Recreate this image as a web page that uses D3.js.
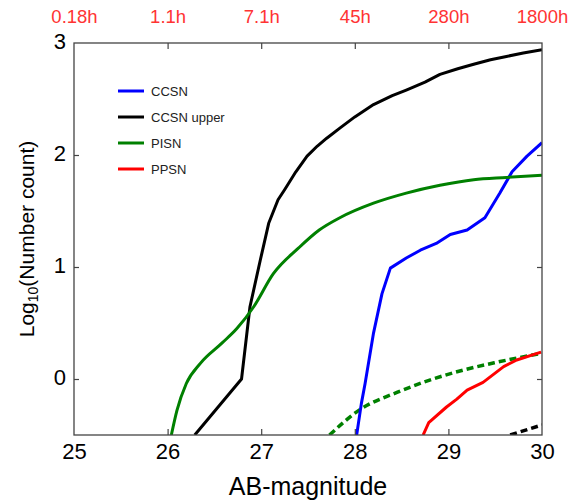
<!DOCTYPE html>
<html>
<head>
<meta charset="utf-8">
<script src="https://cdn.jsdelivr.net/npm/d3@7"></script>
<style>
  body { margin: 0; background: #fff; }
  svg { display: block; font-family: "Liberation Sans", Arial, sans-serif; }
</style>
</head>
<body>
<svg id="chart" width="576" height="504"></svg>
<script>
/* Supernova number counts vs AB magnitude. */

// x ticks and top (time) labels
const magTicks = [25, 26, 27, 28, 29, 30];
const timeLabels = ["0.18h", "1.1h", "7.1h", "45h", "280h", "1800h"];
const countTicks = [0, 1, 2, 3];

// CCSN (blue)
const ccsnX = [28.02, 28.07, 28.11, 28.20, 28.29, 28.38, 28.55, 28.70, 28.87, 29.02, 29.20, 29.39, 29.55, 29.68, 29.84, 30.0];
const ccsnY = [-0.5, -0.22, -0.04, 0.41, 0.76, 0.99, 1.08, 1.15, 1.21, 1.29, 1.33, 1.44, 1.66, 1.85, 1.99, 2.11];

// CCSN upper (black)
const upperX = [26.29, 26.79, 26.88, 26.99, 27.08, 27.18, 27.25, 27.37, 27.49, 27.60, 27.70, 27.84, 28.0, 28.20, 28.40, 28.55, 28.75, 28.91, 29.10, 29.27, 29.45, 29.62, 29.80, 30.0];
const upperY = [-0.5, 0.0, 0.645, 1.06, 1.39, 1.60, 1.69, 1.85, 1.99, 2.08, 2.15, 2.24, 2.34, 2.45, 2.53, 2.58, 2.65, 2.72, 2.77, 2.81, 2.85, 2.88, 2.91, 2.94];

// PISN (green)
const pisnX = [26.04, 26.10, 26.20, 26.35, 26.58, 26.74, 26.92, 27.13, 27.40, 27.62, 27.84, 28.20, 28.55, 28.91, 29.27, 29.62, 30.0];
const pisnY = [-0.5, -0.28, -0.04, 0.14, 0.32, 0.45, 0.645, 0.94, 1.17, 1.33, 1.44, 1.57, 1.66, 1.73, 1.78, 1.80, 1.82];

// PPSN (red)
const ppsnX = [28.73, 28.79, 28.98, 29.09, 29.20, 29.37, 29.59, 29.73, 29.99];
const ppsnY = [-0.5, -0.39, -0.25, -0.18, -0.10, -0.03, 0.11, 0.17, 0.24];

// dashed companions
const pisnDashX = [27.73, 28.06, 28.45, 28.80, 29.16, 29.52, 30.0];
const pisnDashY = [-0.5, -0.27, -0.12, -0.01, 0.08, 0.15, 0.23];
const upperDashX = [29.66, 30.0];
const upperDashY = [-0.5, -0.41];

const series = [
  { name: "CCSN", xs: ccsnX, ys: ccsnY, color: "#0000ff", smooth: false },
  { name: "CCSN upper", xs: upperX, ys: upperY, color: "#000000", smooth: false },
  { name: "PISN", xs: pisnX, ys: pisnY, color: "#008000", smooth: true },
  { name: "PPSN", xs: ppsnX, ys: ppsnY, color: "#ff0000", smooth: false },
];
const dashed = [
  { xs: pisnDashX, ys: pisnDashY, color: "#008000" },
  { xs: upperDashX, ys: upperDashY, color: "#000000" },
];

const margin = { top: 43, right: 34, bottom: 69, left: 74 };
const W = 576, H = 504;
const w = W - margin.left - margin.right;
const h = H - margin.top - margin.bottom;

const x = d3.scaleLinear().domain([25, 30]).range([0, w]);
const y = d3.scaleLinear().domain([-0.5, 3]).range([h, 0]);

const svg = d3.select("#chart");
const g = svg.append("g").attr("transform", `translate(${margin.left},${margin.top})`);

g.append("clipPath").attr("id", "plot-clip")
  .append("rect").attr("width", w).attr("height", h);

const line = d3.line().x((d) => x(d[0])).y((d) => y(d[1]));
const smoothLine = d3.line().x((d) => x(d[0])).y((d) => y(d[1])).curve(d3.curveMonotoneX);
const toPts = (s) => s.xs.map((v, i) => [v, s.ys[i]]);

const curves = g.append("g").attr("clip-path", "url(#plot-clip)");

curves.selectAll("path.dash")
  .data(dashed)
  .join("path")
  .attr("class", "dash")
  .attr("fill", "none")
  .attr("stroke", (d) => d.color)
  .attr("stroke-width", 3.5)
  .attr("stroke-dasharray", "7,4")
  .attr("d", (d) => smoothLine(toPts(d)));

curves.selectAll("path.series")
  .data(series)
  .join("path")
  .attr("class", "series")
  .attr("fill", "none")
  .attr("stroke", (d) => d.color)
  .attr("stroke-width", 3)
  .attr("stroke-linejoin", "round")
  .attr("d", (d) => (d.smooth ? smoothLine : line)(toPts(d)));

// axes, ticks pointing inward
const inner = magTicks.slice(1, -1);
const xBottom = g.append("g").attr("transform", `translate(0,${h})`)
  .call(d3.axisBottom(x).tickValues(magTicks).tickFormat(d3.format("d")).tickSize(-6).tickPadding(8));
const xTop = g.append("g")
  .call(d3.axisTop(x).tickValues(magTicks).tickFormat((d, i) => timeLabels[i]).tickSize(-6).tickPadding(20));
const yLeft = g.append("g")
  .call(d3.axisLeft(y).tickValues(countTicks).tickFormat(d3.format("d")).tickSize(-5).tickPadding(8));
const yRight = g.append("g").attr("transform", `translate(${w},0)`)
  .call(d3.axisRight(y).tickValues(countTicks).tickFormat("").tickSize(-5));

[xBottom, xTop, yLeft, yRight].forEach((a) => {
  a.select(".domain").remove();
  a.selectAll("line").attr("stroke", "#444").attr("stroke-width", 1.2);
});
// end ticks coincide with frame
xBottom.selectAll(".tick line").filter((d) => !inner.includes(d)).remove();
xTop.selectAll(".tick line").filter((d) => !inner.includes(d)).remove();
yLeft.selectAll(".tick line").filter((d) => d === 3).remove();
yRight.selectAll(".tick line").filter((d) => d === 3).remove();

xBottom.selectAll("text").attr("font-size", 22).attr("fill", "#000").attr("font-family", "Liberation Sans, Arial, sans-serif");
yLeft.selectAll("text").attr("font-size", 22).attr("fill", "#000").attr("dy", "0.24em").attr("font-family", "Liberation Sans, Arial, sans-serif");
xTop.selectAll("text").attr("font-size", 18.5).attr("fill", "#ff3333").attr("font-family", "Liberation Sans, Arial, sans-serif");

// frame
g.append("rect")
  .attr("width", w).attr("height", h)
  .attr("fill", "none").attr("stroke", "#444").attr("stroke-width", 1.3);

// axis titles
svg.append("text")
  .attr("x", margin.left + w / 2).attr("y", 495)
  .attr("text-anchor", "middle").attr("font-size", 25)
  .text("AB-magnitude");

const yt = svg.append("text")
  .attr("transform", `translate(34,${margin.top + h / 2}) rotate(-90)`)
  .attr("text-anchor", "middle").attr("font-size", 21);
yt.append("tspan").text("Log");
yt.append("tspan").attr("font-size", 14).attr("dy", 4).text("10");
yt.append("tspan").attr("dy", -4).text("(Number count)");

// legend
const leg = g.append("g").attr("transform", "translate(44,48)");
const rows = leg.selectAll("g").data(series).join("g")
  .attr("transform", (d, i) => `translate(0,${i * 26})`);
rows.append("line")
  .attr("x1", 0).attr("x2", 26)
  .attr("stroke", (d) => d.color).attr("stroke-width", 3);
rows.append("text")
  .attr("x", 33).attr("dy", "0.36em")
  .attr("font-size", 13).attr("fill", "#222")
  .text((d) => d.name);
</script>
</body>
</html>
